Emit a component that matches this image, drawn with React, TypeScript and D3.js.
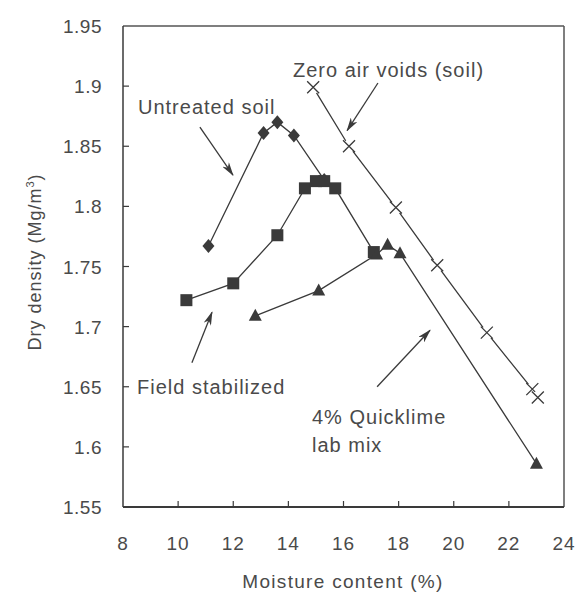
import React from "react";
import * as d3 from "d3";

// moisture content (%) / dry density (Mg/m3)
const untreatedX = [11.1, 13.1, 13.6, 14.2, 15.3];
const untreatedY = [1.767, 1.861, 1.87, 1.859, 1.822];

const fieldX = [10.3, 12.0, 13.6, 14.6, 15.0, 15.3, 15.7, 17.1];
const fieldY = [1.722, 1.736, 1.776, 1.815, 1.821, 1.821, 1.815, 1.762];

const quickX = [12.8, 15.1, 17.2, 17.6, 18.05, 23.0];
const quickY = [1.709, 1.73, 1.76, 1.768, 1.761, 1.586];

const zavX = [14.9, 16.2, 17.9, 19.4, 21.2, 22.85, 23.05];
const zavY = [1.899, 1.85, 1.799, 1.751, 1.695, 1.648, 1.641];

const xTicks = [8, 10, 12, 14, 16, 18, 20, 22, 24];
const yTicks = [1.55, 1.6, 1.65, 1.7, 1.75, 1.8, 1.85, 1.9, 1.95];
const yTickLabels = ["1.55", "1.6", "1.65", "1.7", "1.75", "1.8", "1.85", "1.9", "1.95"];

// annotation arrows [x1, y1, x2, y2] in data units
const arrows = [
  [10.79, 1.866, 11.99, 1.826],
  [17.25, 1.9026, 16.13, 1.863],
  [10.5, 1.67, 11.23, 1.712],
  [17.22, 1.65, 19.14, 1.697],
];

const W = 577, H = 595;
const L = 123, R = 564, T = 26, B = 507;
const ink = "#3a3a3a";
const txt = "#4a4a4a";
const font = "Liberation Sans, Arial, sans-serif";

export default function App() {
  const x = d3.scaleLinear().domain([8, 24]).range([L, R]);
  const y = d3.scaleLinear().domain([1.55, 1.95]).range([B, T]);

  const line = (xs: number[], ys: number[]) =>
    d3.line<number>().x((d, i) => x(xs[i])).y((d) => y(d))(ys) || "";

  const s = 6;
  const diamond = (cx: number, cy: number) =>
    `M${cx},${cy - s - 1}L${cx + s},${cy}L${cx},${cy + s + 1}L${cx - s},${cy}Z`;
  const tri = (cx: number, cy: number) =>
    `M${cx},${cy - 7}L${cx + 6.5},${cy + 5}L${cx - 6.5},${cy + 5}Z`;

  return (
    <svg width={W} height={H} style={{ position: "absolute", left: 0, top: 0, background: "#fff" }}>
      <defs>
        <marker id="ah" viewBox="0 0 14 8" refX="13" refY="4" markerWidth="14" markerHeight="8"
          markerUnits="userSpaceOnUse" orient="auto">
          <path d="M0,0L14,4L0,8L4,4Z" fill={ink} />
        </marker>
      </defs>

      {/* frame */}
      <line x1={L} x2={R} y1={T} y2={T} stroke="#555" strokeWidth={1.5} />
      <line x1={R} x2={R} y1={T} y2={B} stroke="#555" strokeWidth={1.5} />
      <line x1={L} x2={L} y1={T} y2={B} stroke={ink} strokeWidth={1.5} />
      <line x1={L} x2={R} y1={B} y2={B} stroke={ink} strokeWidth={2} />

      {/* y ticks */}
      {yTicks.map((t, i) => (
        <g key={"y" + i}>
          {i > 0 && i < yTicks.length - 1 && (
            <line x1={L} x2={L + 6} y1={y(t)} y2={y(t)} stroke={ink} strokeWidth={1.2} />
          )}
          <text x={102} y={y(t) + 7} textAnchor="end" fontSize={19} letterSpacing={0.5} fill={txt} fontFamily={font}>
            {yTickLabels[i]}
          </text>
        </g>
      ))}

      {/* x ticks */}
      {xTicks.map((t, i) => (
        <g key={"x" + i}>
          {i > 0 && i < xTicks.length - 1 && (
            <line x1={x(t)} x2={x(t)} y1={B} y2={B - 6} stroke={ink} strokeWidth={1.2} />
          )}
          <text x={x(t)} y={550} textAnchor="middle" fontSize={19} letterSpacing={1} fill={txt} fontFamily={font}>
            {t}
          </text>
        </g>
      ))}

      <text x={343} y={588} textAnchor="middle" fontSize={19} letterSpacing={1.3} fill={txt} fontFamily={font}>
        Moisture content (%)
      </text>
      <text transform="translate(41,262) rotate(-90)" textAnchor="middle" fontSize={18} letterSpacing={1}
        fill={txt} fontFamily={font}>
        Dry density (Mg/m<tspan dy={-7} fontSize={11}>3</tspan><tspan dy={7}>)</tspan>
      </text>

      {/* series lines */}
      <g fill="none" stroke={ink} strokeWidth={1.3}>
        <path d={line(untreatedX, untreatedY)} />
        <path d={line(fieldX, fieldY)} />
        <path d={line(quickX, quickY)} />
        <path d={line(zavX, zavY)} />
      </g>

      {/* markers */}
      {untreatedX.map((v, i) => (
        <path key={"u" + i} d={diamond(x(v), y(untreatedY[i]))} fill={ink} />
      ))}
      {fieldX.map((v, i) => (
        <rect key={"f" + i} x={x(v) - 6} y={y(fieldY[i]) - 6} width={12} height={12} fill={ink} />
      ))}
      {quickX.map((v, i) => (
        <path key={"q" + i} d={tri(x(v), y(quickY[i]))} fill={ink} />
      ))}
      {zavX.map((v, i) => (
        <g key={"z" + i} transform={`translate(${x(v)},${y(zavY[i])})`}>
          <circle r={6.5} fill="#fff" />
          <path d="M-6,-6L6,6M-6,6L6,-6" stroke={ink} strokeWidth={1.3} />
        </g>
      ))}

      {/* annotations */}
      {arrows.map((a, i) => (
        <line key={"a" + i} x1={x(a[0])} y1={y(a[1])} x2={x(a[2])} y2={y(a[3])}
          stroke={ink} strokeWidth={1.3} markerEnd="url(#ah)" />
      ))}
      <g fontSize={20} letterSpacing={1} fill={txt} fontFamily={font}>
        <text x={138} y={114}>Untreated soil</text>
        <text x={293} y={77}>Zero air voids (soil)</text>
        <text x={137} y={394}>Field stabilized</text>
        <text x={312} y={424}>4% Quicklime</text>
        <text x={312} y={452}>lab mix</text>
      </g>
    </svg>
  );
}
